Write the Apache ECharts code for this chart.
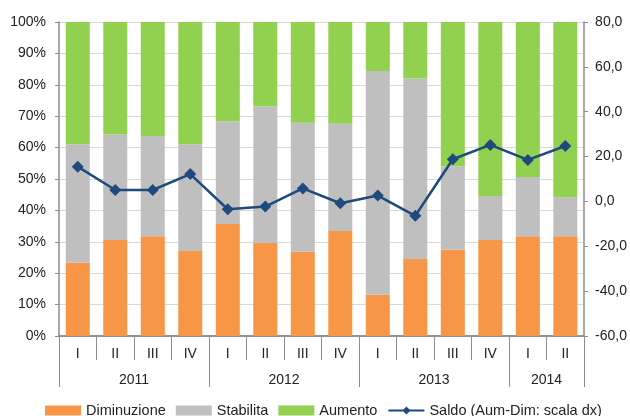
<!DOCTYPE html>
<html>
<head>
<meta charset="utf-8">
<script src="https://cdn.jsdelivr.net/npm/echarts@6/dist/echarts.min.js"></script>
<style>
  html, body { margin: 0; padding: 0; background: #fff; }
  #chart { width: 630px; height: 416px; }
</style>
</head>
<body>
<div id="chart"></div>
<script>
const quarters = ['I', 'II', 'III', 'IV', 'I', 'II', 'III', 'IV', 'I', 'II', 'III', 'IV', 'I', 'II']
const years = ['2011', '2012', '2013', '2014']
const yearCenters = [2, 6, 10, 13]
const yearBounds = [0, 4, 8, 12, 14]

const diminuzione = [23.3, 30.6, 31.8, 27.1, 35.7, 29.6, 26.8, 33.4, 13.1, 24.5, 27.5, 30.6, 31.8, 31.8]
const stabilita = [37.8, 33.6, 31.9, 34.0, 32.7, 43.6, 41.1, 34.2, 71.3, 57.6, 26.6, 14.0, 18.8, 12.4]
const aumento = [38.9, 35.8, 36.3, 38.9, 31.6, 26.8, 32.1, 32.4, 15.6, 17.9, 45.9, 55.4, 49.4, 55.8]
const saldo = [15.5, 5.1, 5.1, 12.2, -3.5, -2.3, 5.8, -0.8, 2.6, -6.4, 18.8, 25.2, 18.5, 24.7]

const axisColor = '#8c8c8c'
const textStyle = { color: '#222', fontSize: 14, fontFamily: 'Liberation Sans, Arial, sans-serif' }

const chart = echarts.init(document.getElementById('chart'), null, { renderer: 'canvas' })

const option = {
  animation: false,
  textStyle: textStyle,
  grid: { left: 59, right: 45, top: 22, bottom: 80 },
  legend: {
    left: 45,
    top: 403,
    padding: 0,
    itemWidth: 36,
    itemHeight: 10,
    itemGap: 10,
    textStyle: { ...textStyle, fontSize: 14.5 },
    data: [
      { name: 'Diminuzione', icon: 'rect' },
      { name: 'Stabilita', icon: 'rect' },
      { name: 'Aumento', icon: 'rect' },
      { name: 'Saldo (Aum-Dim: scala dx)' }
    ]
  },
  xAxis: [
    {
      type: 'category',
      data: quarters,
      boundaryGap: true,
      axisLine: { onZero: false, lineStyle: { color: axisColor, width: 1.5 } },
      axisTick: { show: true, interval: 0, length: 24, lineStyle: { color: axisColor } },
      axisLabel: { interval: 0, margin: 11, ...textStyle }
    },
    {
      type: 'value',
      position: 'bottom',
      min: 0,
      max: 14,
      splitLine: { show: false },
      axisLine: { show: true, onZero: false, lineStyle: { color: axisColor, width: 1.5 } },
      axisTick: { show: true, customValues: yearBounds, length: 51, lineStyle: { color: axisColor } },
      axisLabel: {
        customValues: yearCenters,
        margin: 37,
        formatter: v => years[yearCenters.indexOf(v)] || '',
        ...textStyle
      }
    }
  ],
  yAxis: [
    {
      type: 'value',
      min: 0,
      max: 100,
      interval: 10,
      axisLine: { show: true, lineStyle: { color: axisColor, width: 1.5 } },
      axisTick: { show: true, length: 4, lineStyle: { color: axisColor } },
      axisLabel: { formatter: '{value}%', margin: 13, ...textStyle },
      splitLine: { lineStyle: { color: '#d9d9d9', width: 1 } }
    },
    {
      type: 'value',
      min: -60,
      max: 80,
      interval: 20,
      position: 'right',
      axisLine: { show: true, lineStyle: { color: axisColor, width: 1.5 } },
      axisTick: { show: true, length: 4, lineStyle: { color: axisColor } },
      axisLabel: { formatter: v => v.toFixed(1).replace('.', ','), margin: 11, ...textStyle },
      splitLine: { show: false }
    }
  ],
  series: [
    {
      name: 'Diminuzione',
      type: 'bar',
      stack: 'tot',
      barWidth: 24,
      data: diminuzione,
      itemStyle: { color: '#f79646' }
    },
    {
      name: 'Stabilita',
      type: 'bar',
      stack: 'tot',
      data: stabilita,
      itemStyle: { color: '#bfbfbf' }
    },
    {
      name: 'Aumento',
      type: 'bar',
      stack: 'tot',
      data: aumento,
      itemStyle: { color: '#92d050' }
    },
    {
      name: 'Saldo (Aum-Dim: scala dx)',
      type: 'line',
      yAxisIndex: 1,
      data: saldo,
      symbol: 'diamond',
      symbolSize: 12,
      lineStyle: { color: '#1f4a7e', width: 2.5 },
      itemStyle: { color: '#1f4a7e' },
      z: 5
    }
  ]
}

chart.setOption(option)
</script>
</body>
</html>
